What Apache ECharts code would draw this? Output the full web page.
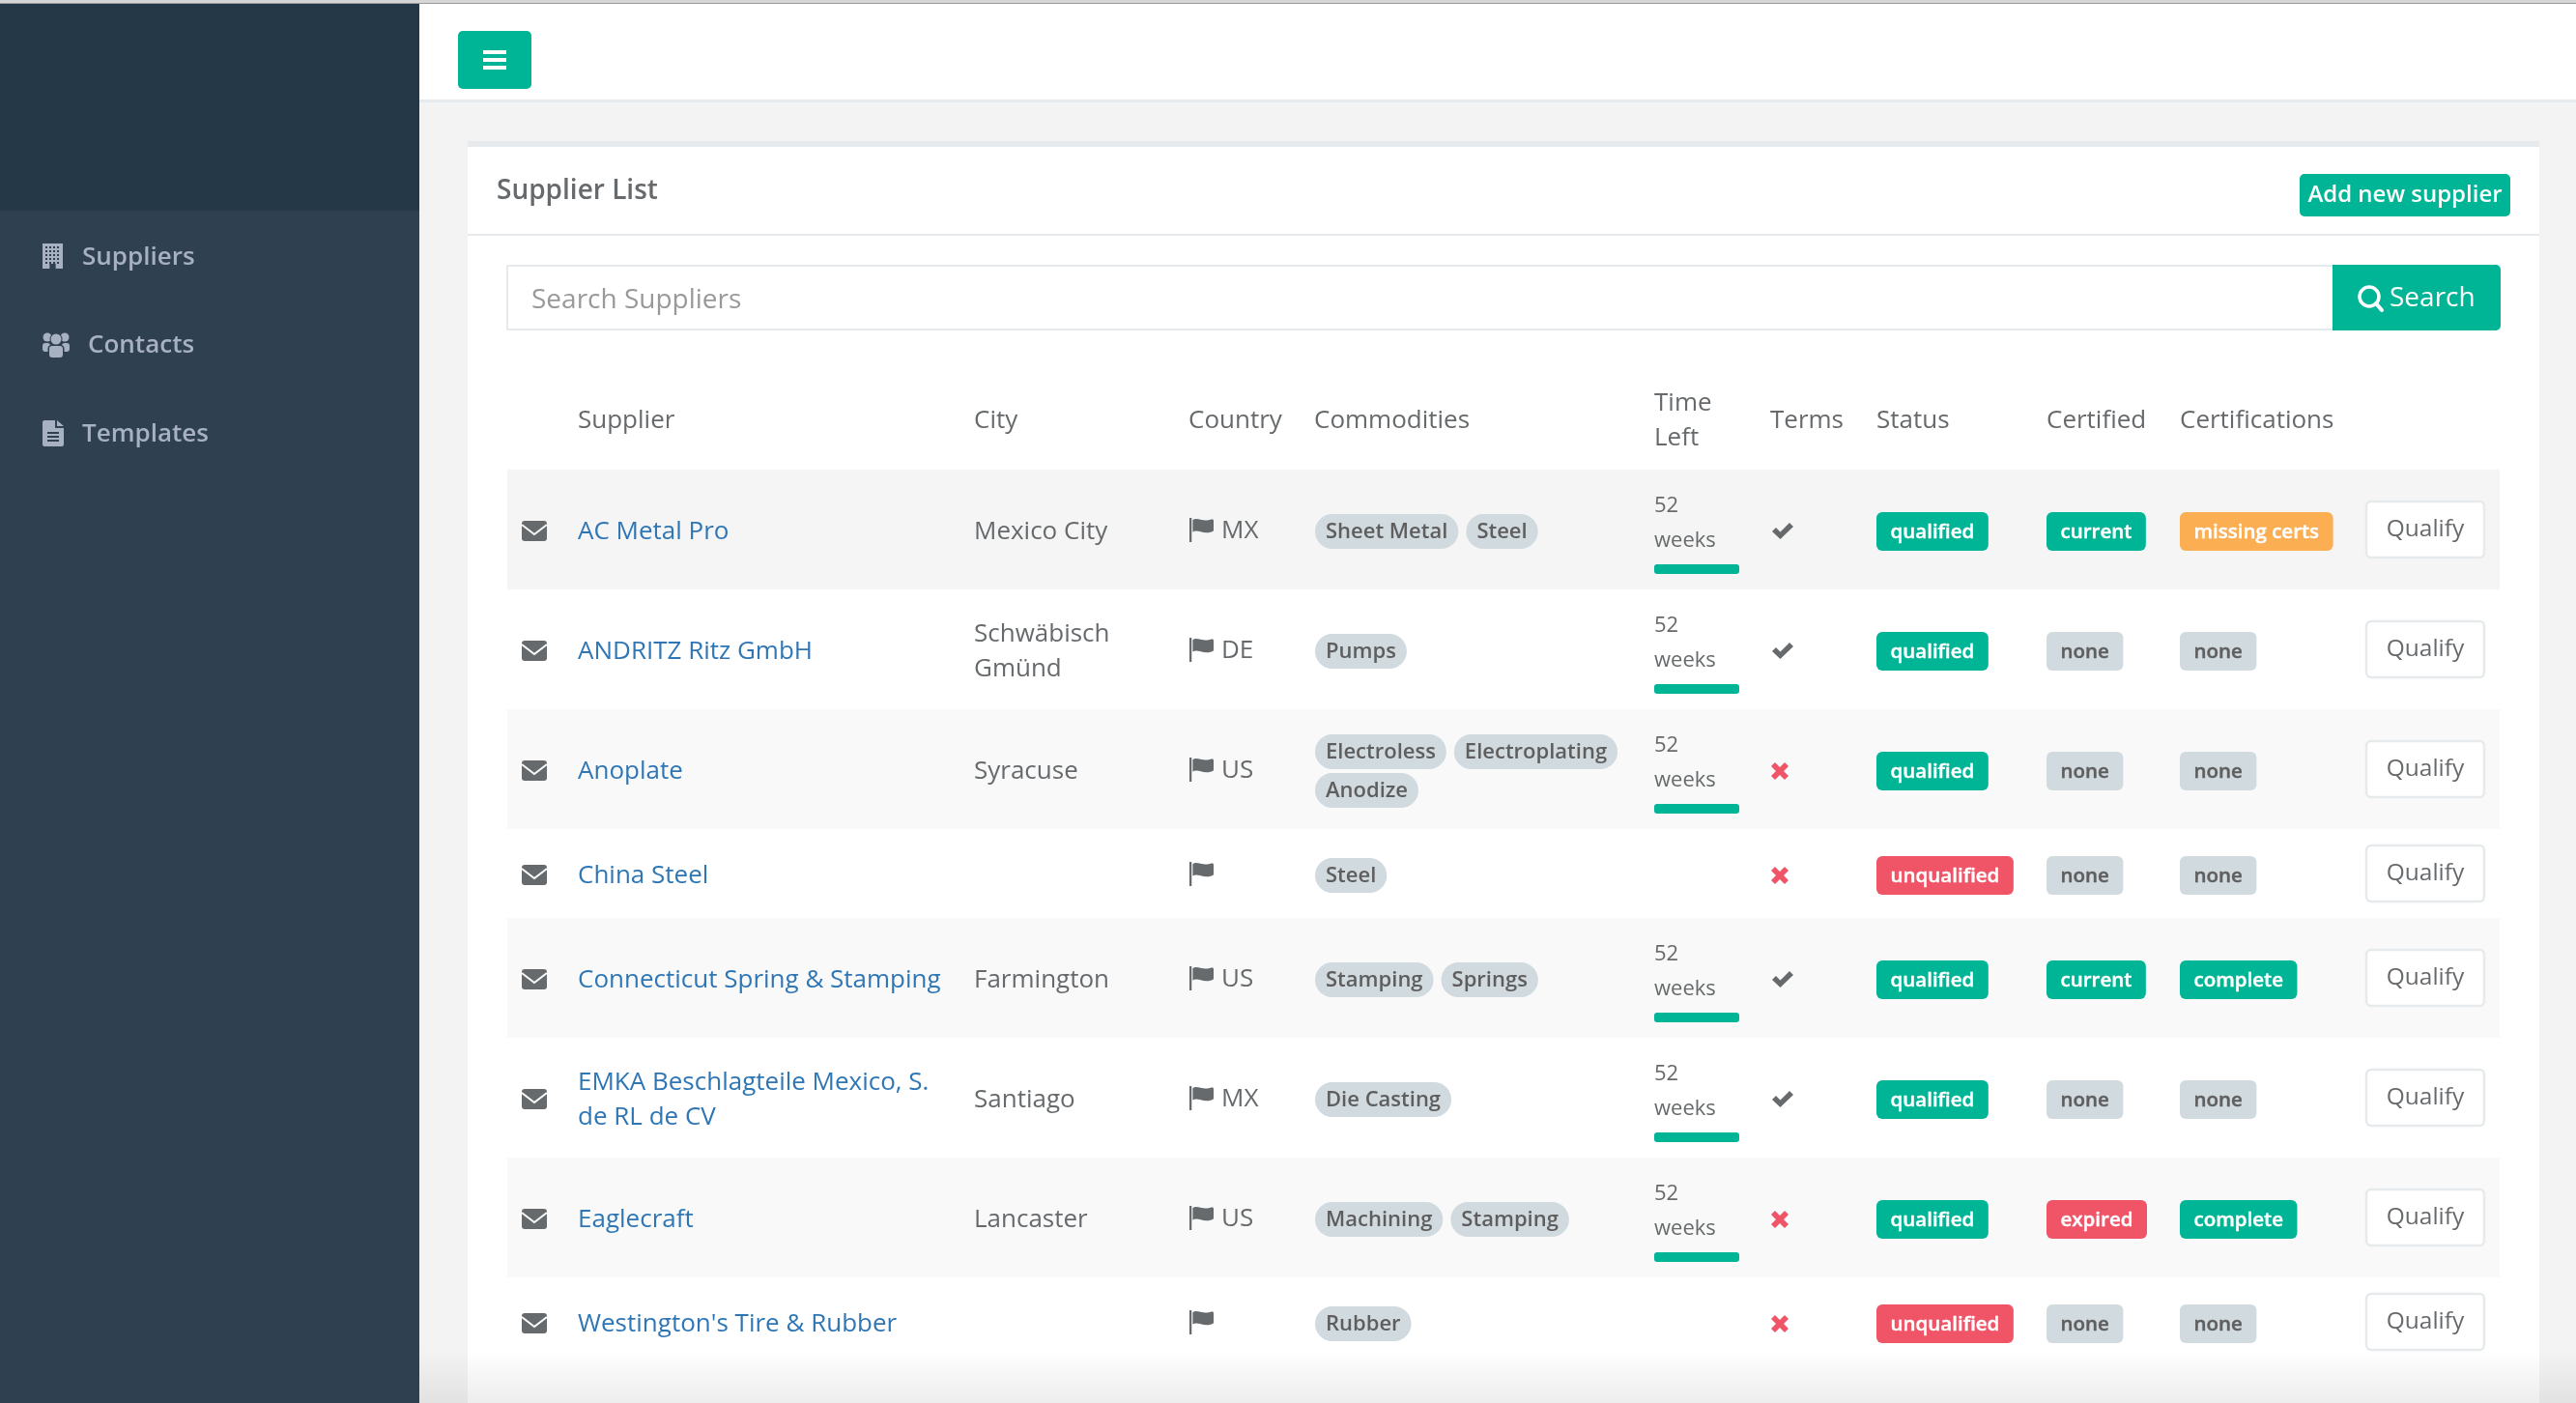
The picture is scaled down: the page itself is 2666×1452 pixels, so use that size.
<!DOCTYPE html>
<html><head><meta charset="utf-8">
<style>html,body{margin:0;padding:0;background:#f3f3f4}#c{width:2666px;height:1452px}</style>
<script src="https://cdn.jsdelivr.net/npm/echarts@6/dist/echarts.min.js"></script>
</head><body><div id="c"></div>
<script>
// ---- content ----
const navItems = ['Suppliers', 'Contacts', 'Templates'];
const tableHeaders = ['Supplier', 'City', 'Country', 'Commodities', 'Time\nLeft', 'Terms', 'Status', 'Certified', 'Certifications'];
const suppliers = ['AC Metal Pro', 'ANDRITZ Ritz GmbH', 'Anoplate', 'China Steel', 'Connecticut Spring & Stamping', 'EMKA Beschlagteile Mexico, S.\nde RL de CV', 'Eaglecraft', "Westington's Tire & Rubber"];
const cities = ['Mexico City', 'Schwäbisch\nGmünd', 'Syracuse', '', 'Farmington', 'Santiago', 'Lancaster', ''];
const countries = ['MX', 'DE', 'US', '', 'US', 'MX', 'US', ''];
const commodities = [['Sheet Metal', 'Steel'], ['Pumps'], ['Electroless', 'Electroplating', 'Anodize'], ['Steel'], ['Stamping', 'Springs'], ['Die Casting'], ['Machining', 'Stamping'], ['Rubber']];
const weeksLeft = [52, 52, 52, null, 52, 52, 52, null];
const termsOk = [true, true, false, false, true, true, false, false];
const statuses = ['qualified', 'qualified', 'qualified', 'unqualified', 'qualified', 'qualified', 'qualified', 'unqualified'];
const certified = ['current', 'none', 'none', 'none', 'current', 'none', 'expired', 'none'];
const certifications = ['missing certs', 'none', 'none', 'none', 'complete', 'none', 'complete', 'none'];

// ---- layout & style ----
const FF = '"Open Sans"';
const TEXT = '#676a6c', GREEN = '#00b595', RED = '#f05467', ORANGE = '#fbae52', GREY = '#d1dade', LINK = '#2f76b5', LINE = '#e7eaec';
const rowEdges = [486, 610, 734, 858, 950, 1074, 1198, 1322, 1414];
const rowFill = ['#f5f5f5', '#ffffff', '#f9f9f9', '#ffffff', '#f9f9f9', '#ffffff', '#f9f9f9', '#ffffff'];
const colX = {env: 540, sup: 598, city: 1008, flag: 1231, ctry: 1264, com: 1361, time: 1712, terms: 1833, status: 1942, cert: 2118, certs: 2256, qual: 2448};
const headerX = [colX.sup, colX.city, 1230, 1360, colX.time, 1832, colX.status, colX.cert, colX.certs];
const labelColor = {qualified: GREEN, unqualified: RED, current: GREEN, complete: GREEN, expired: RED, none: GREY, 'missing certs': ORANGE};
const mctx = document.createElement('canvas').getContext('2d');
function tw(s, f) { mctx.font = f; return mctx.measureText(s).width; }
function T(text, x, y, fontSize, fill, weight, align, stroke) {
  const style = {text, x, y, fill, font: (weight || 400) + ' ' + fontSize + 'px ' + FF, textAlign: align || 'left', textVerticalAlign: 'middle'};
  if (stroke) { style.stroke = fill; style.lineWidth = stroke; }
  return {type: 'text', style};
}
function R(x, y, w, h, fill, r, stroke, lw) {
  return {type: 'rect', shape: {x, y, width: w, height: h, r: r || 0}, style: {fill, stroke: stroke || null, lineWidth: lw || 0}};
}
function C(cx, cy, r, fill) { return {type: 'circle', shape: {cx, cy, r}, style: {fill}}; }
function P(d, x, y, w, h, fill) {
  return {type: 'path', shape: {pathData: d, layout: 'cover', x, y, width: w, height: h}, style: {fill}};
}
function multi(text, x, cy, size, fill, lh) {
  const ls = text.split('\n');
  return ls.map((s, i) => T(s, x, cy + (i - (ls.length - 1) / 2) * lh, size, fill));
}
const ICON = {
  building: 'M0 0H20V26H13V21H7V26H0Z',
  file: 'M0 2C0 1 1 0 2 0H13V8H22V25C22 26 21 27 20 27H2C1 27 0 26 0 25ZM15 0L22 6H15ZM5 12V14H17V12ZM5 16V18H17V16ZM5 20V22H17V20Z',
  flag: 'M0 0H2V26H0ZM3 2C8 -1 12 5 20 1.5C21 1 22 2 22 3V13C22 14 21.5 14.5 20 15C12 18 8 12 3 15Z',
  check: 'M0 9L4 5L8.5 9.5L18 0L22 4L8.5 17Z',
  cross: 'M0 4L4 0L9 5L14 0L18 4L13 9L18 14L14 18L9 13L4 18L0 14L5 9Z'
};

function renderChrome() {
  const kids = [
    R(0, 0, 2666, 3, '#d6d6d6'), R(0, 3, 2666, 1, '#9a9a9a'),
    R(0, 4, 434, 1448, '#2f4050'), R(0, 4, 434, 214, '#253847'),
    R(434, 4, 2232, 99, '#ffffff'), R(434, 103, 2232, 3, LINE),
    R(474, 32, 76, 60, GREEN, 5),
    R(500, 52, 24, 4, '#fff'), R(500, 60, 24, 4, '#fff'), R(500, 68, 24, 4, '#fff'),
    R(484, 146, 2144, 6, LINE), R(484, 152, 2144, 1300, '#ffffff'), R(484, 242, 2144, 2, LINE),
    T('Supplier List', 514, 198, 28, TEXT, 600),
    R(2380, 180, 218, 44, GREEN, 5), T('Add new supplier', 2489, 202, 24, '#fff', 600, 'center'),
    R(525, 275, 1890, 66, '#fff', 0, LINE, 2), T('Search Suppliers', 550, 311, 28, '#999999'),
    R(2414, 274, 174, 68, GREEN, [0, 5, 5, 0]),
    {type: 'circle', shape: {cx: 2452, cy: 307, r: 10}, style: {fill: 'none', stroke: '#fff', lineWidth: 3.5}},
    {type: 'line', shape: {x1: 2459, y1: 314, x2: 2465, y2: 321}, style: {stroke: '#fff', lineWidth: 4, lineCap: 'round'}},
    T('Search', 2473, 309, 28, '#fff', 500)
  ];
  const navY = [267, 358, 450], navX = [85, 91, 85], nav = '#a7b1c2', bg = '#2f4050';
  navItems.forEach((n, i) => kids.push(T(n, navX[i], navY[i], 26, nav, 600)));
  kids.push(P(ICON.building, 44, 252, 21, 26, nav));
  for (let a = 0; a < 5; a++) for (let b = 0; b < 4; b++) kids.push(R(47 + b * 4, 255 + a * 4, 2, 2, bg));
  kids.push(C(49, 349, 4.5, nav), C(67, 349, 4.5, nav), R(44, 355, 8, 9, nav, 3), R(64, 355, 8, 9, nav, 3));
  kids.push(C(58, 351, 6.5, bg), C(58, 351, 5.5, nav), R(49.5, 357, 17, 14, bg, 4), R(51, 358, 14, 12, nav, 3));
  kids.push(P(ICON.file, 44, 435, 22, 27, nav));
  tableHeaders.forEach((h, i) => kids.push(...multi(h, headerX[i], 436, 26, TEXT, 36)));
  return {type: 'group', children: kids};
}

function renderRow(params) {
  const i = params.dataIndex, top = rowEdges[i], bot = rowEdges[i + 1], cy = (top + bot) / 2;
  const kids = [R(525, top, 2062, bot - top, rowFill[i])];
  kids.push(R(colX.env, cy - 9, 26, 21, TEXT, 3));
  kids.push({type: 'polyline', shape: {points: [[colX.env, cy - 5], [colX.env + 13, cy + 5], [colX.env + 26, cy - 5]]}, style: {fill: null, stroke: rowFill[i], lineWidth: 2}});
  kids.push(...multi(suppliers[i], colX.sup, cy + 3, 26, LINK, 36));
  if (cities[i]) kids.push(...multi(cities[i], colX.city, cy + 3, 26, TEXT, 36));
  kids.push(P(ICON.flag, colX.flag, cy - 12, 25, 25, TEXT));
  if (countries[i]) kids.push(T(countries[i], colX.ctry, cy + 2, 26, TEXT));
  // commodity pills
  const pf = '600 22px ' + FF;
  const limit = colX.time - 30;
  let px = colX.com, lines = [[]];
  commodities[i].forEach(c => {
    const w = tw(c, pf) + 22;
    if (px + w > limit) { lines.push([]); px = colX.com; }
    lines[lines.length - 1].push([c, px, w]);
    px += w + 8;
  });
  lines.forEach((ln, k) => ln.forEach(([c, x, w]) => {
    const y = cy + (k - (lines.length - 1) / 2) * 40;
    kids.push(R(x, y - 16, w, 36, GREY, 18));
    kids.push(T(c, x + w / 2, y + 3, 22, '#5e5e5e', 600, 'center'));
  }));
  // time left
  if (weeksLeft[i] != null) {
    kids.push(T(String(weeksLeft[i]), colX.time, cy - 24, 22, TEXT));
    kids.push(T('weeks', colX.time, cy + 12, 22, TEXT));
    kids.push(R(colX.time, cy + 36, 88, 10, GREEN, 3));
  }
  // terms
  if (termsOk[i]) kids.push(P(ICON.check, colX.terms + 1, cy - 7, 22, 17, TEXT));
  else kids.push(P(ICON.cross, colX.terms, cy - 7, 18, 18, RED));
  // labels
  const lf = '600 20.5px ' + FF;
  [[statuses[i], colX.status], [certified[i], colX.cert], [certifications[i], colX.certs]].forEach(([s, x]) => {
    const w = tw(s, lf) + 29;
    const none = s === 'none';
    kids.push(R(x, cy - 18, w, 40, labelColor[s], 6));
    kids.push(T(s, x + w / 2, cy + 3, 20.5, none ? '#5e5e5e' : '#fff', 600, 'center', 0.4));
  });
  // action
  kids.push(R(colX.qual + 1, cy - 29, 122, 58, '#fff', 5, LINE, 2.5));
  kids.push(T('Qualify', colX.qual + 62, cy, 24.5, TEXT, 400, 'center'));
  return {type: 'group', children: kids};
}

function renderFade() {
  return {type: 'rect', shape: {x: 434, y: 1396, width: 2232, height: 56}, style: {
    fill: new echarts.graphic.LinearGradient(0, 0, 0, 1, [{offset: 0, color: 'rgba(0,0,0,0)'}, {offset: 1, color: 'rgba(0,0,0,0.07)'}])
  }};
}

const chart = echarts.init(document.getElementById('c'), null, {renderer: 'canvas', width: 2666, height: 1452});
chart.setOption({
  animation: false,
  backgroundColor: '#f3f3f4',
  tooltip: {show: false},
  series: [
    {type: 'custom', coordinateSystem: 'none', silent: true, z: 1, data: [0], renderItem: renderChrome},
    {type: 'custom', coordinateSystem: 'none', silent: true, z: 2, data: suppliers.map((s, i) => i), renderItem: renderRow},
    {type: 'custom', coordinateSystem: 'none', silent: true, z: 3, data: [0], renderItem: renderFade}
  ]
});
</script></body></html>
